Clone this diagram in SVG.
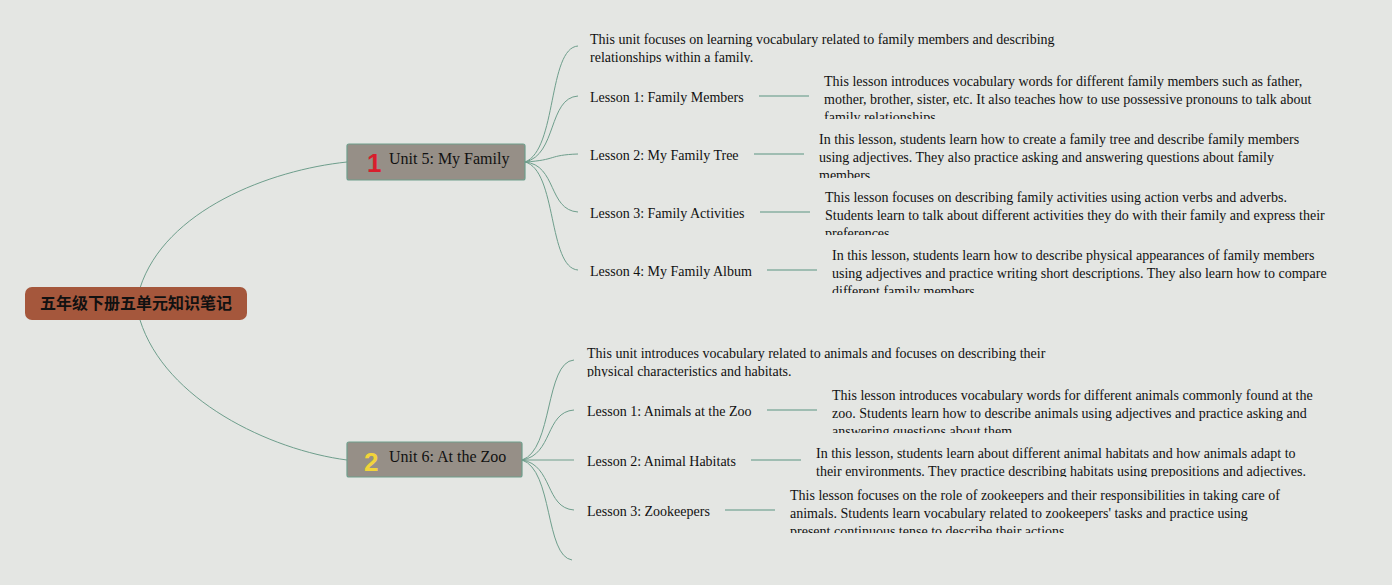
<svg xmlns="http://www.w3.org/2000/svg" width="1392" height="585" viewBox="0 0 1392 585">
<style>
.bg{fill:#e4e6e3}
.conn{fill:none;stroke:#6e9e8c;stroke-width:1}
.hl{fill:none;stroke:#9fbdb2;stroke-width:2}
.t{font-family:"Liberation Serif",serif;font-size:14px;fill:#111}
.unit{fill:#968f87;stroke:#6e9e8c;stroke-width:1.2}
.ut{font-family:"Liberation Serif",serif;font-size:16px;fill:#111}
.num{font-family:"Liberation Sans",sans-serif;font-weight:bold;font-size:26px}
</style>
<defs>
<clipPath id="c0"><rect x="580" y="25" width="520" height="38"/></clipPath>
<clipPath id="c1"><rect x="815" y="68" width="520" height="51"/></clipPath>
<clipPath id="c2"><rect x="810" y="126" width="520" height="52"/></clipPath>
<clipPath id="c3"><rect x="815" y="184" width="520" height="51"/></clipPath>
<clipPath id="c4"><rect x="820" y="242" width="520" height="51"/></clipPath>
<clipPath id="c5"><rect x="580" y="340" width="520" height="37"/></clipPath>
<clipPath id="c6"><rect x="820" y="382" width="520" height="51"/></clipPath>
<clipPath id="c7"><rect x="810" y="440" width="520" height="37"/></clipPath>
<clipPath id="c8"><rect x="780" y="482" width="520" height="51"/></clipPath>
</defs>
<rect class="bg" x="0" y="0" width="1392" height="585"/>
<g id="connectors">
<path class="conn" d="M140,288 C165,210 270,170 347,162"/>
<path class="conn" d="M140,320 C165,400 270,450 347,460"/>
<path class="conn" d="M525,162 C557,150 548,48 578,46"/>
<path class="conn" d="M525,162 C557,155 548,98 578,96"/>
<path class="conn" d="M525,162 C557,160 548,155 578,154"/>
<path class="conn" d="M525,162 C557,165 548,210 578,212"/>
<path class="conn" d="M525,162 C557,170 548,268 578,270"/>
<path class="conn" d="M522,460 C553,450 545,362 574,360"/>
<path class="conn" d="M522,460 C553,455 545,412 574,410"/>
<path class="conn" d="M522,460 L574,460"/>
<path class="conn" d="M522,460 C553,465 545,508 574,510"/>
<path class="conn" d="M522,460 C553,470 545,556 572,560"/>
<path class="hl" d="M759,96 H809"/>
<path class="hl" d="M754,154 H804"/>
<path class="hl" d="M760,212 H810"/>
<path class="hl" d="M767,270 H817"/>
<path class="hl" d="M767,410 H817"/>
<path class="hl" d="M751,460 H801"/>
<path class="hl" d="M725,510 H775"/>
</g>
<g id="root">
<rect x="25" y="287" width="222" height="33" rx="7" fill="#a5573c"/>
<text x="136" y="309" text-anchor="middle" font-family="'Noto Sans CJK SC',sans-serif" font-weight="bold" font-size="16" fill="#111">五年级下册五单元知识笔记</text>
</g>
<g id="unit5">
<rect class="unit" x="347" y="144" width="178" height="36" rx="2"/>
<text class="num" x="367" y="172" fill="#d81e2c">1</text>
<text class="ut" x="389" y="164">Unit 5: My Family</text>
</g>
<g id="unit6">
<rect class="unit" x="347" y="442" width="175" height="35" rx="2"/>
<text class="num" x="364" y="471" fill="#f2d43a">2</text>
<text class="ut" x="389" y="462">Unit 6: At the Zoo</text>
</g>
<g id="u5desc" clip-path="url(#c0)">
<text class="t" x="590" y="44">This unit focuses on learning vocabulary related to family members and describing</text>
<text class="t" x="590" y="62">relationships within a family.</text>
</g>
<g id="u5l1"><text class="t" x="590" y="102">Lesson 1: Family Members</text></g>
<g id="u5l1d" clip-path="url(#c1)">
<text class="t" x="824" y="86">This lesson introduces vocabulary words for different family members such as father,</text>
<text class="t" x="824" y="104">mother, brother, sister, etc. It also teaches how to use possessive pronouns to talk about</text>
<text class="t" x="824" y="122">family relationships.</text>
</g>
<g id="u5l2"><text class="t" x="590" y="160">Lesson 2: My Family Tree</text></g>
<g id="u5l2d" clip-path="url(#c2)">
<text class="t" x="819" y="144">In this lesson, students learn how to create a family tree and describe family members</text>
<text class="t" x="819" y="162">using adjectives. They also practice asking and answering questions about family</text>
<text class="t" x="819" y="180">members.</text>
</g>
<g id="u5l3"><text class="t" x="590" y="218">Lesson 3: Family Activities</text></g>
<g id="u5l3d" clip-path="url(#c3)">
<text class="t" x="825" y="202">This lesson focuses on describing family activities using action verbs and adverbs.</text>
<text class="t" x="825" y="220">Students learn to talk about different activities they do with their family and express their</text>
<text class="t" x="825" y="238">preferences.</text>
</g>
<g id="u5l4"><text class="t" x="590" y="276">Lesson 4: My Family Album</text></g>
<g id="u5l4d" clip-path="url(#c4)">
<text class="t" x="832" y="260">In this lesson, students learn how to describe physical appearances of family members</text>
<text class="t" x="832" y="278">using adjectives and practice writing short descriptions. They also learn how to compare</text>
<text class="t" x="832" y="296">different family members.</text>
</g>
<g id="u6desc" clip-path="url(#c5)">
<text class="t" x="587" y="358">This unit introduces vocabulary related to animals and focuses on describing their</text>
<text class="t" x="587" y="376">physical characteristics and habitats.</text>
</g>
<g id="u6l1"><text class="t" x="587" y="416">Lesson 1: Animals at the Zoo</text></g>
<g id="u6l1d" clip-path="url(#c6)">
<text class="t" x="832" y="400">This lesson introduces vocabulary words for different animals commonly found at the</text>
<text class="t" x="832" y="418">zoo. Students learn how to describe animals using adjectives and practice asking and</text>
<text class="t" x="832" y="436">answering questions about them.</text>
</g>
<g id="u6l2"><text class="t" x="587" y="466">Lesson 2: Animal Habitats</text></g>
<g id="u6l2d" clip-path="url(#c7)">
<text class="t" x="816" y="458">In this lesson, students learn about different animal habitats and how animals adapt to</text>
<text class="t" x="816" y="476">their environments. They practice describing habitats using prepositions and adjectives.</text>
</g>
<g id="u6l3"><text class="t" x="587" y="516">Lesson 3: Zookeepers</text></g>
<g id="u6l3d" clip-path="url(#c8)">
<text class="t" x="790" y="500">This lesson focuses on the role of zookeepers and their responsibilities in taking care of</text>
<text class="t" x="790" y="518">animals. Students learn vocabulary related to zookeepers' tasks and practice using</text>
<text class="t" x="790" y="536">present continuous tense to describe their actions.</text>
</g>
</svg>
